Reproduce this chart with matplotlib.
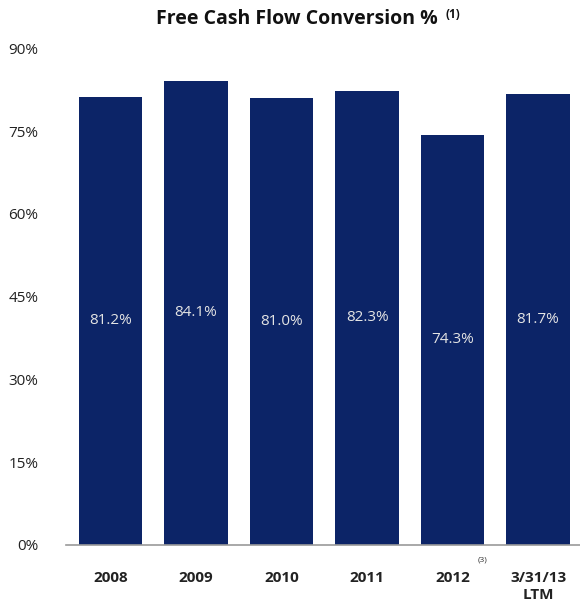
import numpy as np
import matplotlib.pyplot as plt

categories = ['2008', '2009', '2010', '2011', '2012', '3/31/13\nLTM']
values = [81.2, 84.1, 81.0, 82.3, 74.3, 81.7]
value_labels = ['81.2%', '84.1%', '81.0%', '82.3%', '74.3%', '81.7%']
yticks = [0, 15, 30, 45, 60, 75, 90]

bar_color = '#0c2467'
plt.rcParams['font.family'] = ['Open Sans', 'DejaVu Sans']

fig = plt.figure(figsize=(5.8, 6.04), dpi=100)
ax = fig.add_axes([0.114, 0.098, 0.886, 0.822])

x = np.arange(len(categories))
ax.bar(x, values, width=0.74, color=bar_color, zorder=2)

for xi, v, lab in zip(x, values, value_labels):
    ax.text(xi, v / 2, lab, ha='center', va='center', color='#e4e4e4', fontsize=11)

ax.set_xlim(-0.52, 5.49)
ax.set_ylim(0, 90)
ax.set_yticks(yticks)
ax.set_yticklabels([f'{t}%' for t in yticks], fontsize=11, color='#222222')
ax.set_xticks(x)
ax.set_xticklabels(categories, fontsize=11, fontweight='bold', color='#222222', linespacing=1.25)
ax.tick_params(axis='both', length=0)
ax.tick_params(axis='y', pad=20)
ax.tick_params(axis='x', pad=19)

for side in ['top', 'right', 'left']:
    ax.spines[side].set_visible(False)
ax.spines['bottom'].set_color('#9a9a9a')
ax.spines['bottom'].set_linewidth(1.2)

# footnote marker next to 2012
ax.text(4.29, -2.8, '(3)', fontsize=6, color='#333333', ha='left', va='center')

fig.text(0.512, 0.968, 'Free Cash Flow Conversion %', fontsize=14, fontweight='bold',
         ha='center', va='center', color='#111111')
fig.text(0.768, 0.976, '(1)', fontsize=8.5, fontweight='bold', ha='left', va='center', color='#111111')

fig.savefig('out.png', dpi=100)
